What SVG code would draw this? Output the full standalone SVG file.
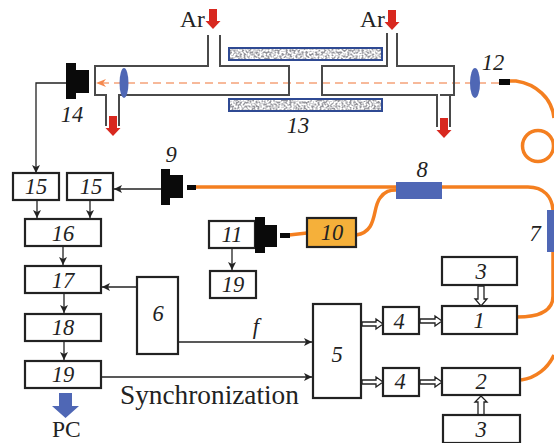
<svg xmlns="http://www.w3.org/2000/svg" width="554" height="443" viewBox="0 0 554 443">
<style>
.b{fill:#fff;stroke:#222;stroke-width:2.2}
.l{font:italic 22.500px "Liberation Serif",serif;fill:#222;text-anchor:middle}
.r{font:23.500px "Liberation Serif",serif;fill:#222}
.w{fill:none;stroke:#222;stroke-width:1.3}
.t{fill:none;stroke:#4a4a4a;stroke-width:2}
.f{fill:none;stroke:#f47f20;stroke-width:3.500}
.k{fill:#0a0a0a}
.u{fill:#4f67b5}
.h{fill:#fff;stroke:#222;stroke-width:1.3}
.red{fill:#d8281f}
</style>
<defs>
<marker id="a" markerWidth="9" markerHeight="8" refX="8" refY="4" orient="auto" markerUnits="userSpaceOnUse"><path d="M0 0L8 4L0 8L2 4Z" fill="#222"/></marker>
<filter id="n" x="0" y="0" width="100%" height="100%"><feTurbulence type="fractalNoise" baseFrequency="0.5" numOctaves="2" seed="4"/><feColorMatrix values="0 0 0 0 0.3 0 0 0 0 0.3 0 0 0 0 0.33 3 3 0 0 -2.6"/></filter>
<path id="ar" class="red" d="M-4 0H4V12H7.500L0 20L-7.500 12H-4Z"/>
</defs>
<g id="connectors">
<path class="f" d="M510 81H516C536 84 552 98 554 118"/>
<circle class="f" cx="538" cy="146" r="15.500"/>
<path class="f" d="M195 187H396M442 187H528C544 187 552 197 553 210"/>
<path class="f" d="M553 252V296C553 310 540 317 517 317"/>
<path class="f" d="M521 380C536 378 548 368 554 355"/>
<path class="f" d="M356 235C378 232 372 208 380 198C385 191 390 190 396 190"/>
<path class="f" d="M289 235L307 233"/>
<path stroke="#f5a27a" stroke-width="1.6" stroke-dasharray="8 5" fill="none" d="M499 83H100"/>
<path d="M96 83L106 79L103 83L106 87Z" fill="#f5894f"/>
<path class="w" marker-end="url(#a)" d="M66 83H36V173"/>
<path class="w" marker-end="url(#a)" d="M161 189H114"/>
<path class="w" marker-end="url(#a)" d="M37 200V218"/>
<path class="w" marker-end="url(#a)" d="M90 200V218"/>
<path class="w" marker-end="url(#a)" d="M63 246V265"/>
<path class="w" marker-end="url(#a)" d="M64 293V313"/>
<path class="w" marker-end="url(#a)" d="M64 341V360"/>
<path class="w" marker-end="url(#a)" d="M137 287H102"/>
<path class="w" marker-end="url(#a)" d="M232 248V270"/>
<path class="w" marker-end="url(#a)" d="M178 342H312"/>
<path class="w" marker-end="url(#a)" d="M101 377H312"/>
<path class="h" d="M362 322H376V319L383 324L376 329V326H362Z"/>
<path class="h" d="M362 380H376V377L383 382L376 387V384H362Z"/>
<path class="h" d="M420 319H435V316L442 321L435 326V323H420Z"/>
<path class="h" d="M420 380H435V377L442 382L435 387V384H420Z"/>
<path class="h" d="M478 286V299H475L481 306L487 299H484V286Z"/>
<path class="h" d="M478 415V402H475L481 396L487 402H484V415Z"/>
</g>
<g id="furnace">
<rect x="229" y="48" width="153" height="12" fill="#fff" stroke="#2f4a93" stroke-width="2"/>
<rect x="229" y="99" width="153" height="12" fill="#fff" stroke="#2f4a93" stroke-width="2"/>
<rect x="230" y="49" width="151" height="10" filter="url(#n)"/>
<rect x="230" y="100" width="151" height="10" filter="url(#n)"/>
<text class="l" x="298" y="133">13</text>
</g>
<g id="tube-left">
<path class="t" d="M208 35V66H95V95H106V126M119 126V95H289V66H220V35"/>
<ellipse class="u" cx="124" cy="83" rx="4.5" ry="15"/>
<use href="#ar" x="113" y="116"/>
<use href="#ar" x="213" y="9"/>
<text class="r" x="180" y="27">Ar</text>
</g>
<g id="tube-right">
<path class="t" d="M387 33V66H322V95H437V127M450 127V95H454V66H397V33M440 95H454"/>
<use href="#ar" x="444" y="118"/>
<use href="#ar" x="392" y="10"/>
<text class="r" x="360" y="27">Ar</text>
</g>
<g id="n12"><ellipse class="u" cx="475" cy="83" rx="5" ry="15"/><rect class="k" x="499" y="79" width="11" height="6"/><text class="l" x="493" y="70">12</text></g>
<g id="n14"><rect class="k" x="66" y="63" width="10" height="36"/><rect class="k" x="75" y="70" width="14" height="23"/><text class="l" x="72" y="122">14</text></g>
<g id="n15a"><rect class="b" x="13" y="173" width="46" height="27"/><text class="l" x="36" y="194">15</text></g>
<g id="n15b"><rect class="b" x="67" y="173" width="46" height="27"/><text class="l" x="91" y="194">15</text></g>
<g id="n16"><rect class="b" x="25" y="219" width="76" height="27"/><text class="l" x="63" y="241">16</text></g>
<g id="n17"><rect class="b" x="25" y="266" width="76" height="27"/><text class="l" x="63" y="288">17</text></g>
<g id="n18"><rect class="b" x="25" y="314" width="76" height="27"/><text class="l" x="63" y="335">18</text></g>
<g id="n19a"><rect class="b" x="25" y="361" width="76" height="27"/><text class="l" x="63" y="382">19</text></g>
<g id="pc"><path class="u" d="M59 393H72V406H79L65.500 418L52 406H59Z"/><text class="r" x="52" y="437">PC</text></g>
<g id="n6"><rect class="b" x="137" y="277" width="41" height="77"/><text class="l" x="158" y="321">6</text></g>
<g id="n9"><rect class="k" x="161" y="169" width="9" height="36"/><rect class="k" x="169" y="175" width="14" height="23"/><rect class="k" x="187" y="185" width="9" height="5"/><text class="l" x="171" y="162">9</text></g>
<g id="n11"><rect class="b" x="209" y="221" width="46" height="27"/><text class="l" x="232" y="242">11</text><rect class="k" x="255" y="217" width="10" height="36"/><rect class="k" x="264" y="225" width="13" height="22"/><rect class="k" x="280" y="233" width="10" height="5"/></g>
<g id="n19b"><rect class="b" x="210" y="271" width="46" height="27"/><text class="l" x="233" y="292">19</text></g>
<g id="n10"><rect fill="#f5b03a" stroke="#222" stroke-width="2.2" x="307" y="218" width="49" height="29"/><text class="l" x="332" y="240">10</text></g>
<g id="n8"><rect class="u" x="396" y="182" width="46" height="17"/><text class="l" x="422" y="177">8</text></g>
<g id="n7"><rect class="u" x="547" y="210" width="7" height="42"/><text class="l" x="535" y="241">7</text></g>
<g id="n5"><rect class="b" x="313" y="304" width="48" height="94"/><text class="l" x="337" y="362">5</text></g>
<g id="n4a"><rect class="b" x="383" y="307" width="36" height="27"/><text class="l" x="399" y="329">4</text></g>
<g id="n4b"><rect class="b" x="383" y="368" width="36" height="28"/><text class="l" x="400" y="389">4</text></g>
<g id="n1"><rect class="b" x="442" y="306" width="75" height="28"/><text class="l" x="479" y="328">1</text></g>
<g id="n2"><rect class="b" x="442" y="368" width="78" height="27"/><text class="l" x="481" y="389">2</text></g>
<g id="n3a"><rect class="b" x="442" y="257" width="75" height="28"/><text class="l" x="481" y="279">3</text></g>
<g id="n3b"><rect class="b" x="443" y="415" width="77" height="28"/><text class="l" x="481" y="437">3</text></g>
<g id="labels"><text class="l" x="256" y="334">f</text><text font-family="'Liberation Serif',serif" font-size="27.300" fill="#222" x="120" y="404">Synchronization</text></g>
</svg>
